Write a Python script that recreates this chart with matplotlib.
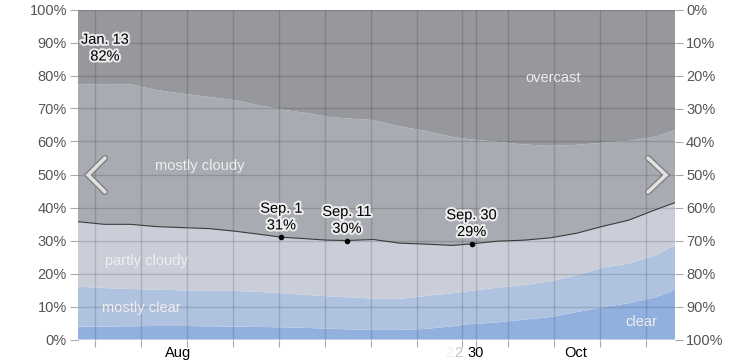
import numpy as np
import matplotlib
matplotlib.use("Agg")
import matplotlib.pyplot as plt
import matplotlib.patheffects as pe
from matplotlib.lines import Line2D

plt.rcParams['font.family'] = ['Liberation Sans', 'DejaVu Sans']
plt.rcParams['font.size'] = 10.5

# days counted from the left edge of the visible window (about Aug 1)
days = [0, 4, 8, 12, 16, 20, 24, 28, 31, 35, 38, 41, 45, 49, 53, 57, 60, 64, 68, 72, 76, 80, 84, 88, 91]

# percentage of time in each cloud cover band (stacked bottom -> top)
clear = [3.9, 3.9, 4.0, 4.1, 4.1, 4.0, 3.9, 3.8, 3.7, 3.5, 3.3, 3.1, 2.9, 2.9, 3.2, 4.0, 4.7, 5.2, 6.0, 6.8, 8.3, 9.8, 11.0, 12.8, 15.0]
mostly_clear = [12.1, 11.7, 11.3, 11.0, 10.8, 10.8, 10.8, 10.6, 10.3, 10.0, 9.8, 9.7, 9.5, 9.4, 10.0, 10.0, 10.1, 10.5, 10.5, 10.8, 11.2, 12.0, 12.0, 12.7, 13.6]
partly_cloudy = [19.7, 19.3, 19.6, 19.1, 19.0, 18.8, 18.1, 17.4, 17.0, 17.0, 17.0, 17.2, 17.9, 16.9, 15.7, 14.5, 14.2, 14.1, 13.6, 13.2, 12.7, 12.5, 13.2, 13.8, 12.9]
mostly_cloudy = [41.6, 42.5, 42.4, 41.4, 40.6, 39.9, 39.7, 39.0, 38.7, 38.1, 37.4, 37.0, 36.2, 35.4, 34.3, 32.9, 31.6, 30.1, 29.0, 27.9, 26.8, 25.3, 24.0, 22.2, 22.0]
overcast = [22.7, 22.6, 22.7, 24.4, 25.5, 26.5, 27.5, 29.2, 30.3, 31.4, 32.5, 33.0, 33.5, 35.4, 36.8, 38.6, 39.4, 40.1, 40.9, 41.3, 41.0, 40.4, 39.8, 38.5, 36.5]

band_names = ['clear', 'mostly clear', 'partly cloudy', 'mostly cloudy', 'overcast']
band_colors = ['#92b0de', '#afc3e0', '#c9ced9', '#a9abb2', '#96989d']

# highlighted points on the clearer-sky line
mark_days = [31, 41, 60]
mark_vals = [31, 30, 29]
mark_labels = ['Sep. 1', 'Sep. 11', 'Sep. 30']

# weekly grid and the axis labels
grid_days = [2.6, 9.6, 16.6, 23.6, 30.6, 37.6, 44.6, 51.6, 58.6, 60.6, 65.6, 72.6, 79.6, 86.6]
xlabel_days = [15.3, 60.6, 75.9]
xlabels = ['Aug', '30', 'Oct']
yticks = list(range(0, 101, 10))

fig = plt.figure(figsize=(7.53, 3.62), dpi=100)
ax = fig.add_axes([78 / 753, 22.5 / 362, 597 / 753, 330 / 362])

ax.stackplot(days, clear, mostly_clear, partly_cloudy, mostly_cloudy, overcast,
             colors=band_colors, linewidth=0)
line = np.cumsum([clear, mostly_clear, partly_cloudy], axis=0)[-1]
ax.plot(days, line, color='#3a3a3a', lw=0.8, zorder=4)
ax.plot(mark_days, mark_vals, 'o', color='black', ms=3, zorder=5)

halo = [pe.withStroke(linewidth=3, foreground='white', alpha=0.8)]
for d, v, lab in zip(mark_days, mark_vals, mark_labels):
    ax.annotate(lab + '\n' + str(v) + '%', (d, v), xytext=(0, 14.5), textcoords='offset points',
                ha='center', va='center', linespacing=1.25, color='black', path_effects=halo, zorder=6)
ax.text(4.1, 88.3, 'Jan. 13\n82%', ha='center', va='center', linespacing=1.25,
        color='black', path_effects=halo, zorder=6)

# band names
band_text = [('overcast', 72.4, 79.2), ('mostly cloudy', 18.6, 52.6), ('partly cloudy', 10.5, 23.8),
             ('mostly clear', 9.6, 9.5), ('clear', 85.8, 5.3)]
for t, x, y in band_text:
    ax.text(x, y, t, ha='center', va='center', color='#eeeeee', zorder=6)

ax.set_xlim(0, 91)
ax.set_ylim(0, 100)
ax.set_xticks(grid_days)
ax.set_xticklabels([])
ax.set_yticks(yticks)
ax.set_yticklabels([str(v) + '%' for v in yticks], color='#555555')
ax.tick_params(axis='y', length=6, color='#aaaaaa', pad=2)
ax.tick_params(axis='x', length=5, color='#aaaaaa')
ax.grid(True, color='black', alpha=0.14, lw=1)
ax.set_axisbelow('line')
for s in ax.spines.values():
    s.set_visible(False)

# x labels, with the fading "22" of the animation
xt = ax.get_xaxis_transform()
for d, lab in zip(xlabel_days, xlabels):
    ax.text(d, -0.041, lab, transform=xt, ha='center', va='center', color='black')
ax.text(56.6, -0.041, '2', transform=xt, ha='center', va='center', color='#f0f0f0')
ax.text(58.0, -0.041, '2', transform=xt, ha='center', va='center', color='#c4c4c4')

ax2 = ax.twinx()
ax2.set_ylim(100, 0)
ax2.set_yticks(yticks)
ax2.set_yticklabels([str(v) + '%' for v in yticks], color='#555555')
ax2.tick_params(axis='y', length=6, color='#aaaaaa', pad=2)
for s in ax2.spines.values():
    s.set_visible(False)

# navigation chevrons
outline = [pe.Stroke(linewidth=4.5, foreground='#808080'), pe.Normal()]
for xs in ([105, 88, 105], [648, 666, 648]):
    fig.add_artist(Line2D([x / 753 for x in xs], [1 - 158 / 362, 1 - 175 / 362, 1 - 192 / 362],
                          color='#e2e2e2', lw=2.5, solid_capstyle='round', solid_joinstyle='miter',
                          path_effects=outline))

plt.savefig('out.png', dpi=100)
